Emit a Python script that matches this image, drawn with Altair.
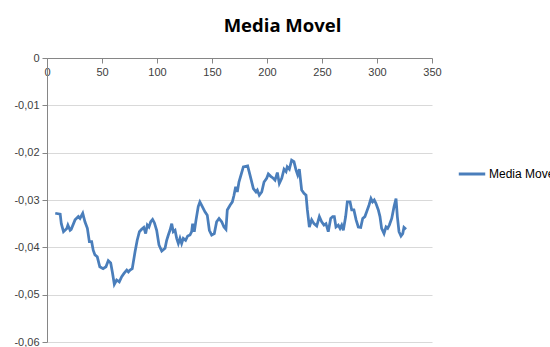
import altair as alt
import pandas as pd

idx = [7.5, 12, 13, 15, 18, 19, 21, 22, 25.5, 28.5, 30, 32.5, 34.5, 36.7, 38.5, 40.6, 42, 43.6, 45.7, 48,
       51, 53.6, 55.7, 57.9, 59.4, 61.2, 63.3, 65.7, 67.9, 70, 72.5, 74, 75.5, 77.5, 80, 82, 84, 86, 88, 89.7,
       91.2, 92.7, 94.3, 96, 97.6, 99.7, 101.8, 104.3, 107.3, 108.8, 110.3, 111.8, 113.4, 114.8, 116.4, 117.9,
       119.4, 120.9, 122.4, 123.9, 126, 127.9, 130, 131.5, 132.4, 133.9, 135.5, 137.5, 139, 141.2, 143.6,
       145.7, 147.6, 149.7, 152.1, 154.2, 156.4, 158.8, 160.9, 162.7, 163.9, 166.4, 168.5, 170, 171.5, 173,
       174.5, 178.5, 182.4, 184.5, 187.6, 190, 191.2, 193, 195.2, 197.3, 199.7, 201.2, 203.4, 205.7, 207.3,
       209.4, 211.2, 213.4, 215.5, 217.3, 218.4, 220.3, 222.4, 224.5, 226.4, 227.9, 229.4, 231.5, 233.6,
       235.5, 236.7, 238.5, 240.6, 242.7, 245.2, 247.6, 249.7, 251.8, 253.6, 255.7, 257.9, 259.7, 261.2,
       262.7, 264.8, 266.4, 267.9, 269.4, 271.5, 273, 275.5, 277, 279, 281, 283, 285.2, 287, 289, 290.6,
       292.7, 294.5, 296, 297.5, 299, 301.2, 302.7, 304.2, 306.4, 308.2, 309.7, 311.2, 313.4, 315.5, 317.3,
       318.5, 320, 321.8, 323.4, 324.5, 326.4]

media_movel = [-0.0328, -0.0330, -0.0350, -0.0367, -0.0360, -0.0353, -0.0364, -0.0362, -0.0342, -0.0335,
               -0.0339, -0.0328, -0.0346, -0.0360, -0.0388, -0.0388, -0.0406, -0.0416, -0.0420, -0.0441,
               -0.0445, -0.0441, -0.0428, -0.0433, -0.0452, -0.0478, -0.0469, -0.0473, -0.0462, -0.0455,
               -0.0448, -0.0452, -0.0448, -0.0445, -0.0410, -0.0385, -0.0367, -0.0362, -0.0358, -0.0371,
               -0.0353, -0.0357, -0.0346, -0.0341, -0.0348, -0.0364, -0.0395, -0.0408, -0.0402, -0.0385,
               -0.0374, -0.0364, -0.0350, -0.0367, -0.0364, -0.0381, -0.0392, -0.0381, -0.0392, -0.0381,
               -0.0385, -0.0376, -0.0374, -0.0367, -0.0350, -0.0367, -0.0342, -0.0314, -0.0304, -0.0314,
               -0.0325, -0.0332, -0.0364, -0.0374, -0.0371, -0.0346, -0.0339, -0.0346, -0.0357, -0.0362,
               -0.0321, -0.0311, -0.0304, -0.0290, -0.0272, -0.0283, -0.0262, -0.0230, -0.0228, -0.0247,
               -0.0276, -0.0283, -0.0279, -0.0290, -0.0283, -0.0262, -0.0254, -0.0245, -0.0250, -0.0254,
               -0.0258, -0.0242, -0.0265, -0.0254, -0.0235, -0.0240, -0.0230, -0.0235, -0.0216, -0.0219,
               -0.0237, -0.0247, -0.0235, -0.0279, -0.0286, -0.0290, -0.0321, -0.0357, -0.0342, -0.0350,
               -0.0355, -0.0335, -0.0346, -0.0353, -0.0350, -0.0367, -0.0339, -0.0335, -0.0335, -0.0357,
               -0.0353, -0.0360, -0.0353, -0.0364, -0.0335, -0.0304, -0.0304, -0.0321, -0.0321, -0.0342,
               -0.0357, -0.0358, -0.0339, -0.0335, -0.0325, -0.0311, -0.0297, -0.0304, -0.0300, -0.0307,
               -0.0321, -0.0335, -0.0360, -0.0371, -0.0357, -0.0360, -0.0353, -0.0339, -0.0314, -0.0297,
               -0.0335, -0.0367, -0.0376, -0.0371, -0.0358, -0.0362]

series_name = "Media Movel"
x_ticks = [0, 50, 100, 150, 200, 250, 300, 350]
y_ticks = [0, -0.01, -0.02, -0.03, -0.04, -0.05, -0.06]

df = pd.DataFrame({"x": idx, "y": media_movel, "serie": series_name})

W, H = 385, 284
axis_gray = "#868686"
label_color = "#404040"

chart = alt.Chart(df).mark_line(strokeWidth=2.75, interpolate="linear").encode(
    x=alt.X("x:Q", scale=alt.Scale(domain=[0, 350], nice=False, zero=False),
            axis=alt.Axis(orient="bottom", offset=-H, values=x_ticks, grid=False, title=None,
                          domainColor=axis_gray, tickColor=axis_gray, tickSize=5,
                          labelPadding=3, labelFont="Liberation Sans", labelFontSize=11,
                          labelColor=label_color, labelFlush=False)),
    y=alt.Y("y:Q", scale=alt.Scale(domain=[-0.06, 0], nice=False, zero=False),
            axis=alt.Axis(values=y_ticks, grid=True, gridColor="#d9d9d9", gridWidth=1, title=None,
                          domainColor=axis_gray, tickColor=axis_gray, tickSize=5,
                          labelPadding=3, labelFont="Liberation Sans", labelFontSize=11,
                          labelColor=label_color, labelFlush=False,
                          labelExpr="datum.value == 0 ? '0' : '-0,0' + round(abs(datum.value) * 100)")),
    color=alt.Color("serie:N", scale=alt.Scale(range=["#4A7EBB"]),
                    legend=alt.Legend(title=None, orient="none", legendX=410, legendY=101,
                                      symbolType="stroke", symbolSize=700, symbolStrokeWidth=3,
                                      labelFont="Liberation Sans", labelFontSize=12,
                                      labelColor="#000000", labelOffset=2, padding=0)),
).properties(
    width=W, height=H,
    background="white",
    title=alt.TitleParams("Media Movel", font="Open Sans", fontSize=18.5, fontWeight="bold",
                          color="#000000", anchor="middle", frame="group", dx=43,
                          offset=2, baseline="alphabetic"),
    padding={"left": 47, "top": 58, "right": 118, "bottom": 5},
    autosize=alt.AutoSizeParams(type="none"),
).configure_view(stroke=None)

chart.save("out.html", embed_options={"renderer": "svg", "actions": False})
